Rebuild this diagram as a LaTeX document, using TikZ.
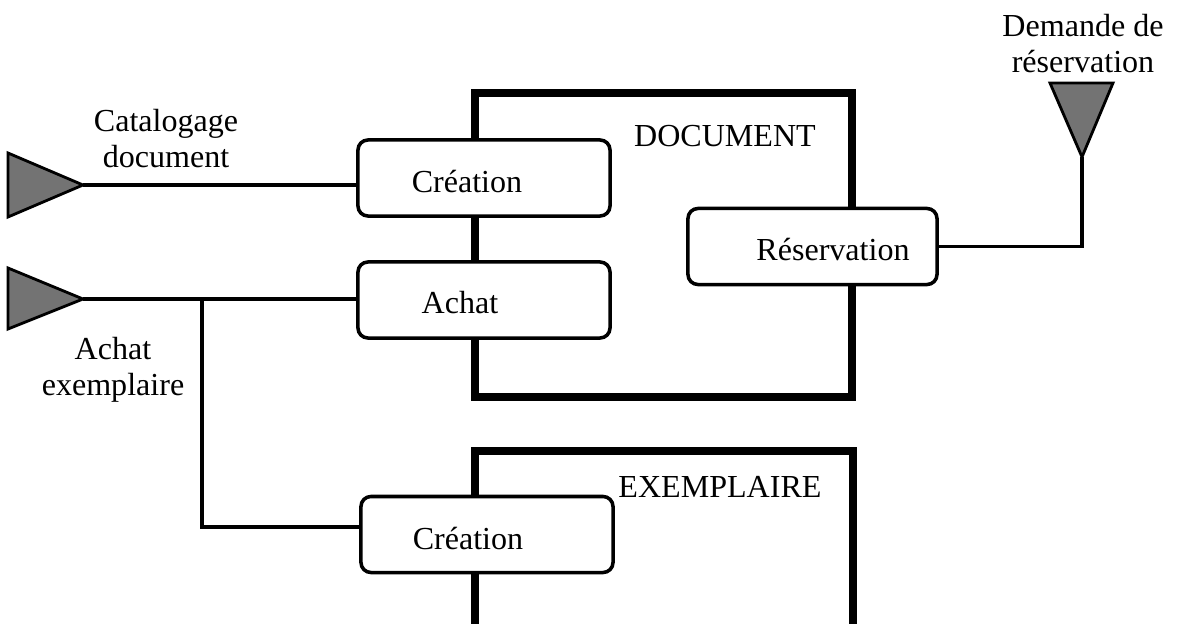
\documentclass[tikz,border=0pt]{standalone}
\usepackage{fontspec}
\setmainfont{Liberation Serif}
\usetikzlibrary{positioning}

\begin{document}
\begin{tikzpicture}[
  x=0.025cm, y=-0.025cm,
  entity/.style={line width=5pt},
  proc/.style={draw, fill=white, rounded corners=0.25cm, line width=2.5pt, minimum width=6.3cm, minimum height=1.9cm, inner sep=0pt},
  lbl/.style={font=\fontsize{22.8}{25.6}\selectfont, inner sep=0pt},
  wire/.style={line width=2.4pt},
  port/.style={draw, line width=2pt, fill=black!55, line join=miter}
]
\useasboundingbox (0,0) rectangle (1180,624);

% entities
\draw[entity] (475,93) rectangle (852,397);
\draw[entity] (475,660) -- (475,451) -- (853,451) -- (853,660);
\node[lbl, anchor=base] (docname) at (725,147) {DOCUMENT};
\node[lbl, anchor=base] (exaname) at (720,497) {EXEMPLAIRE};

% ports
\coordinate (catip) at (83,185);
\draw[port] (8,153) -- (catip) -- (8,217) -- cycle;
\coordinate (actip) at (83,299);
\draw[port] (8,268) -- (actip) -- (8,329) -- cycle;
\coordinate (dmtip) at (1082,157);
\draw[port] (1050,83) -- (1113,83) -- (dmtip) -- cycle;

\node[lbl, align=center] (catlbl) at (166,139) {Catalogage\\document};
\node[lbl, align=center] (achlbl) at (113,370) {Achat\\exemplaire};
\node[lbl, align=center] (dmlbl) at (1083,44) {Demande de\\réservation};

% processes
\node[proc] (crdoc) at (484,178) {};
\node[proc] (achat) at (484,300) {};
\node[proc, minimum width=6.225cm] (resa) at (812.5,246.5) {};
\node[proc] (crexa) at (487,534.5) {};

\node[lbl, anchor=base] (crdoctxt) at (467,193) {Création};
\node[lbl, anchor=base] (achattxt) at (460,313) {Achat};
\node[lbl, anchor=base] (resatxt) at (833,260) {Réservation};
\node[lbl, anchor=base] (crexatxt) at (468,549) {Création};

% connectors
\coordinate (split) at (202,299);
\coordinate (bend) at (202,527);
\draw[wire] (catip) -- (catip -| crdoc.west);
\draw[wire] (actip) -- (actip -| achat.west);
\draw[wire] (split) -- (bend) -- (bend -| crexa.west);
\draw[wire] (dmtip) |- (resa.east);
\end{tikzpicture}
\end{document}
